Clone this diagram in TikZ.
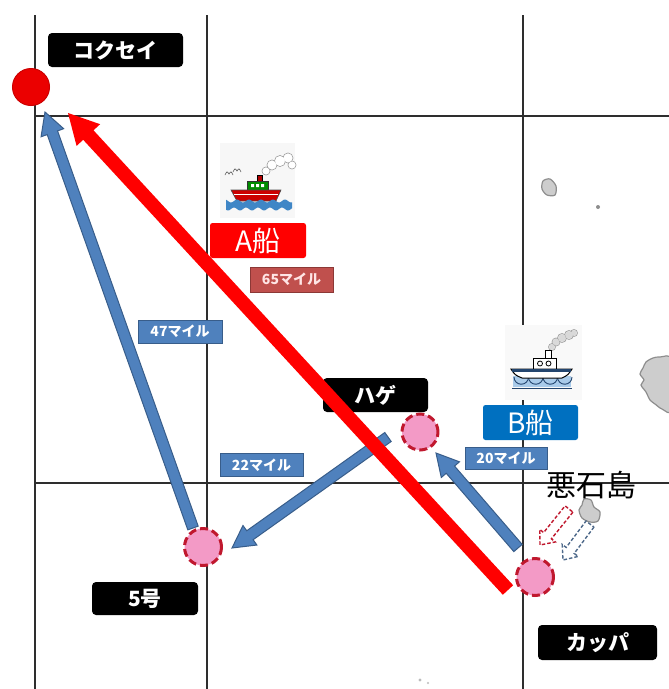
\documentclass[tikz,border=0pt]{standalone}
\usepackage{fontspec}
\newfontfamily\jp{Noto Sans CJK JP}
\usetikzlibrary{calc}

\definecolor{gridc}{HTML}{2E2E2E}
\definecolor{routeblue}{HTML}{4F81BD}
\definecolor{routeblueedge}{HTML}{385D8A}
\definecolor{milered}{HTML}{C0504D}
\definecolor{milerededge}{HTML}{8C3836}
\definecolor{shipblue}{HTML}{0070C0}
\definecolor{spotpink}{HTML}{F39AC6}
\definecolor{spotedge}{HTML}{C0182E}
\definecolor{islandfill}{HTML}{CDCDCD}
\definecolor{islandedge}{HTML}{8E8E8E}
\definecolor{seaA}{HTML}{3F86C6}
\definecolor{seaB}{HTML}{A9CBEA}
\definecolor{seaBedge}{HTML}{23456E}

% block arrow: style, from, to, half shaft, half head, head length
\newcommand{\blkarrow}[6]{%
  \coordinate (ba-h) at ($(#3)!#6!(#2)$);
  \path[#1] ($(#2)!#4!90:(#3)$) -- ($(ba-h)!#4!90:(#3)$) -- ($(ba-h)!#5!90:(#3)$)
    -- (#3) -- ($(ba-h)!#5!-90:(#3)$) -- ($(ba-h)!#4!-90:(#3)$)
    -- ($(#2)!#4!-90:(#3)$) -- cycle;}

\begin{document}
\begin{tikzpicture}[x=1pt,y=-1pt,
  gridline/.style={draw=gridc, line width=1.5pt},
  placetag/.style={fill=black, rounded corners=4pt, text=white, inner sep=0pt,
    font=\jp\bfseries\fontsize{21}{21}\selectfont},
  shiptag/.style={rounded corners=2.5pt, text=white, inner sep=0pt,
    font=\jp\fontsize{28}{28}\selectfont},
  miletag/.style={fill=routeblue, draw=routeblueedge, line width=1pt, text=white,
    inner sep=0pt, minimum height=23pt, minimum width=83pt,
    font=\jp\bfseries\fontsize{14}{14}\selectfont},
  spot/.style={circle, fill=spotpink, draw=spotedge, line width=3pt,
    dash pattern=on 8pt off 4pt, minimum size=36pt, inner sep=0pt},
  bluearrow/.style={fill=routeblue, draw=routeblueedge, line width=1pt},
  redarrow/.style={fill=red},
  island/.style={fill=islandfill, draw=islandedge, line width=1.2pt}]

\useasboundingbox (0,0) rectangle (669,689);
\fill[white] (0,0) rectangle (669,689);

% chart grid
\draw[gridline] (35,15) -- (35,689);
\draw[gridline] (207,15) -- (207,689);
\draw[gridline] (523,15) -- (523,689);
\draw[gridline] (35,116) -- (669,116);
\draw[gridline] (35,483) -- (669,483);

% islands
\path[island] plot[smooth cycle] coordinates {(543,181) (550,179) (556,186) (555,195) (547,195) (542,189)};
\fill[islandedge] (598,207) circle (2);
\path[island] plot[smooth cycle] coordinates {(646,362) (653,358) (660,357) (672,360) (672,410) (662,409) (655,404) (650,400) (646,392) (641,385) (644,380) (640,374) (643,368)};
\path[island] plot[smooth cycle] coordinates {(584,499) (591,500) (594,507) (600,512) (598,521) (590,522) (582,518) (579,510) (582,505)};
\fill[islandedge!60] (420,680) circle (1.6);
\fill[islandedge!60] (428,683) circle (1.2);

% ship A
\fill[gray!6] (220,143) rectangle (295,218);
\foreach \p/\r in {{(266,171)}/4, {(272,165)}/5, {(280,161)}/5.5, {(288,158)}/5, {(292,165)}/4}
  \draw[gray!75, line width=0.7pt] \p circle (\r);
\foreach \p/\r in {{(266,171)}/4, {(272,165)}/5, {(280,161)}/5.5, {(288,158)}/5, {(292,165)}/4}
  \fill[white] \p circle (\r-0.6);
\filldraw[fill=red!70!black, draw=black, line width=0.5pt] (257,175) rectangle (262,182);
\filldraw[fill=green!55!black, draw=black!80, line width=0.6pt] (247,181) rectangle (268,190);
\fill[white] (251,184) rectangle (254,187) (256,184) rectangle (259,187) (261,184) rectangle (264,187);
\filldraw[fill=red!80!black, draw=black!70, line width=0.6pt] (231,190) -- (281,190) -- (276,201) -- (237,201) -- cycle;
\draw[white, line width=0.8pt] (234,194) -- (278,194);
\fill[seaA] plot[domain=226:292, samples=50] (\x,{201+1.5*sin(30*\x)})
  -- plot[domain=292:226, samples=50] (\x,{209+1.5*sin(30*\x+90)}) -- cycle;
\draw[gray!70!black, line width=0.6pt] (225,175) .. controls (227,171) .. (229,174) .. controls (231,171) .. (233,175);
\draw[gray!70!black, line width=0.6pt] (233,172) .. controls (235,168) .. (237,171) .. controls (239,168) .. (241,172);

% ship B
\fill[gray!5] (505,325) rectangle (582,400);
\foreach \p/\r in {{(552,347)}/3.5, {(556,342)}/4, {(562,338)}/4.5, {(569,335)}/4.5, {(574,333)}/3.5}
  \draw[gray!70, line width=0.8pt] \p circle (\r);
\foreach \p/\r in {{(552,347)}/3.5, {(556,342)}/4, {(562,338)}/4.5, {(569,335)}/4.5, {(574,333)}/3.5}
  \fill[gray!30] \p circle (\r-0.7);
\filldraw[fill=white, draw=black, line width=0.9pt] (545,350) rectangle (551,358);
\filldraw[fill=white, draw=black, line width=0.9pt] (533,358) rectangle (556,369);
\draw[black, line width=0.8pt] (540,363.5) circle (2.5) (548.5,363.5) circle (2.5);
\fill[seaB] (513,376) rectangle (571,387);
\foreach \i in {0,1,2,3}
  \draw[seaBedge, line width=0.9pt] ({514+14.5*\i},377) arc (180:0:7.25);
\draw[seaBedge, line width=0.9pt] (512,388) -- (572,388);
\filldraw[fill=white, draw=black, line width=1pt] (511,369) -- (572,369)
  .. controls (568,375) .. (562,378) -- (522,378) .. controls (515,375) .. (511,369) -- cycle;
\fill[seaBedge] (512,369) rectangle (571,371.5);

% route labels
\node[miletag, fill=milered, draw=milerededge, text=white!90!red, minimum height=25pt] (m65) at (291.5,279.5) {65マイル};
\node[miletag, minimum width=84pt] (m47) at (180,331.5) {47マイル};
\node[miletag] (m22) at (261.5,465) {22マイル};
\node[miletag, minimum width=82pt, minimum height=22pt] (m20) at (506,458) {20マイル};

% ship labels
\node[shiptag, fill=red, minimum width=96pt, minimum height=35pt] (shipA) at (258,240.5) {A船};
\node[shiptag, fill=shipblue, minimum width=95pt, minimum height=35pt] (shipB) at (530.5,422.5) {B船};

% waypoints
\node[circle, fill=red!92!black, draw=red!80!black, line width=1pt, minimum size=37pt, inner sep=0pt] (kokusei) at (31,87) {};
\node[spot] (hage) at (420,432) {};
\node[spot, minimum size=37pt] (go5) at (203,547) {};
\node[spot, minimum size=37pt] (kappa) at (535,577) {};

% place names
\node[placetag, minimum width=135pt, minimum height=34pt] (tagK) at (115.5,50) {コクセイ};
\node[placetag, minimum width=105pt, minimum height=34pt] (tagH) at (375.5,395) {ハゲ};
\node[placetag, minimum width=106pt, minimum height=33pt] (tag5) at (145,598.5) {5号};
\node[placetag, minimum width=119pt, minimum height=35pt] (tagP) at (597.5,642.5) {カッパ};
\node[font=\jp\fontsize{30}{30}\selectfont, inner sep=0pt] (akuseki) at (591,485) {悪石島};

% route ends
\coordinate (r47s) at (193,528);
\coordinate (r47e) at (45,112);
\coordinate (r22s) at (388,437);
\coordinate (r22e) at (232,548);
\coordinate (r20s) at (518,548);
\coordinate (r20e) at (436,453);
\coordinate (r65s) at (508,590);
\coordinate (r65e) at (68,113);
\coordinate (driftAs) at (569,509);
\coordinate (driftAe) at (540,545);
\coordinate (driftBs) at (590,524);
\coordinate (driftBe) at (563,560);

% routes
\blkarrow{bluearrow}{r47s}{r47e}{5.5pt}{12pt}{22pt}
\blkarrow{bluearrow}{r22s}{r22e}{5.5pt}{12pt}{22pt}
\blkarrow{bluearrow}{r20s}{r20e}{5.5pt}{12pt}{22pt}
\blkarrow{redarrow}{r65s}{r65e}{7pt}{16pt}{30pt}

% drift near the island
\blkarrow{draw=spotedge, line width=1.4pt, dash pattern=on 3.5pt off 2pt}{driftAs}{driftAe}{5pt}{10pt}{12pt}
\blkarrow{draw=seaBedge!80, line width=1.4pt, dash pattern=on 3.5pt off 2pt}{driftBs}{driftBe}{5pt}{10pt}{12pt}

\end{tikzpicture}
\end{document}
